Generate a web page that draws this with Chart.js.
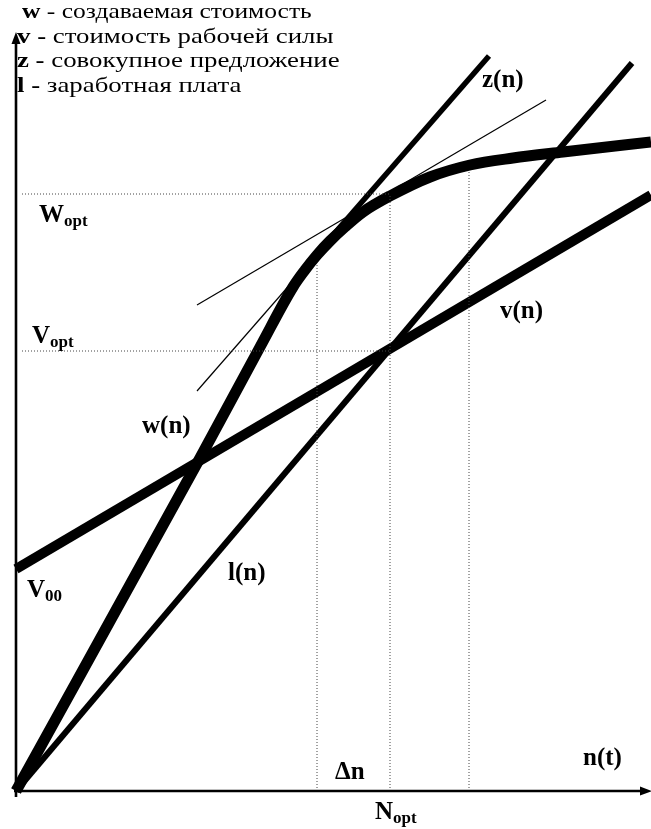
<!DOCTYPE html>
<html>
<head>
<meta charset="utf-8">
<script src="https://cdn.jsdelivr.net/npm/chart.js@4/dist/chart.umd.min.js"></script>
<style>
html,body{margin:0;padding:0;background:#fff;}
#wrap{position:relative;width:651px;height:829px;}
</style>
</head>
<body>
<div id="wrap"><canvas id="c" width="651" height="829"></canvas></div>
<script>
// ---- data (n along x, value along y) ----
const wN   = [0, 184, 244, 277, 289, 301, 314, 329, 347, 374, 414, 454, 497, 547, 635];
const wVal = [0, 333, 444, 504, 521, 536, 550, 564, 579, 595, 614, 626, 633, 639, 649];
const vN   = [0, 635];
const vVal = [222, 596];
const lN   = [0, 616];
const lVal = [0, 728];
const zThinN   = [181, 284];
const zThinVal = [400, 518];
const zN   = [284, 473];
const zVal = [518, 735];
const tanN   = [181, 530];
const tanVal = [486, 691];
const Nopt = 374, Wopt = 597, Vopt = 440, dnLeft = 301, dnRight = 453;
const dnLeftTop = 527, dnRightTop = 620, noptTop = 595;
const xAxisEnd = 636, yAxisEnd = 759;

const legendLines = [
  ["w", " - создаваемая стоимость", false],
  ["v -", " стоимость рабочей силы", true],
  ["z -", " совокупное предложение", true],
  ["l -", " заработная плата", true]
];
const labels = [
  {t:"W", s:"opt", n:23, v:569},
  {t:"V", s:"opt", n:16, v:448},
  {t:"V", s:"00", n:11, v:194},
  {t:"w(n)", s:"", n:126, v:358},
  {t:"l(n)", s:"", n:212, v:211},
  {t:"v(n)", s:"", n:484, v:473},
  {t:"z(n)", s:"", n:466, v:704},
  {t:"n(t)", s:"", n:567, v:26},
  {t:"Δn", s:"", n:319, v:12},
  {t:"N", s:"opt", n:359, v:-28}
];

const pts = (xs, ys) => xs.map((x, i) => ({x: x, y: ys[i]}));
const line = (data, width, extra) => Object.assign({
  data: data, showLine: true, borderColor: '#000', backgroundColor: '#000',
  borderWidth: width, pointRadius: 0, fill: false, borderCapStyle: 'butt'
}, extra || {});
const dot = {borderDash: [1, 2], borderColor: '#444'};

const datasets = [
  // axes
  line(pts([0, 0], [-6, yAxisEnd - 8]), 2.6),
  line(pts([-2, xAxisEnd - 8], [0, 0]), 2.6),
  // dotted guides
  line(pts([6, Nopt], [Wopt, Wopt]), 1, dot),
  line(pts([6, Nopt], [Vopt, Vopt]), 1, dot),
  line(pts([dnLeft, dnLeft], [0, dnLeftTop]), 1, dot),
  line(pts([Nopt, Nopt], [0, noptTop]), 1, dot),
  line(pts([dnRight, dnRight], [0, dnRightTop]), 1, dot),
  // curves
  line(pts(lN, lVal), 6),
  line(pts(vN, vVal), 10),
  line(pts(tanN, tanVal), 1.2),
  line(pts(zThinN, zThinVal), 1.2),
  line(pts(zN, zVal), 5.5),
  line(pts(wN, wVal), 11, {cubicInterpolationMode: 'monotone'})
];

const annot = {
  id: 'annot',
  afterDatasetsDraw(chart) {
    const ctx = chart.ctx, xs = chart.scales.x, ys = chart.scales.y;
    const F = '"Liberation Serif", "Times New Roman", serif';
    ctx.save();
    ctx.fillStyle = '#000';
    // arrowheads
    const ax = xs.getPixelForValue(0), ay = ys.getPixelForValue(0);
    const ty = ys.getPixelForValue(yAxisEnd), tx = xs.getPixelForValue(xAxisEnd);
    ctx.beginPath(); ctx.moveTo(ax, ty); ctx.lineTo(ax - 4.5, ty + 12); ctx.lineTo(ax + 4.5, ty + 12); ctx.closePath(); ctx.fill();
    ctx.beginPath(); ctx.moveTo(tx, ay); ctx.lineTo(tx - 12, ay - 4.5); ctx.lineTo(tx - 12, ay + 4.5); ctx.closePath(); ctx.fill();
    // labels
    ctx.textBaseline = 'alphabetic'; ctx.textAlign = 'left';
    labels.forEach(L => {
      const px = xs.getPixelForValue(L.n), py = ys.getPixelForValue(L.v);
      ctx.font = 'bold 25px ' + F;
      ctx.fillText(L.t, px, py);
      if (L.s) {
        const w = ctx.measureText(L.t).width;
        ctx.font = 'bold 17px ' + F;
        ctx.fillText(L.s, px + w, py + 4);
      }
    });
    // legend block (text slightly widened, as in the reference)
    legendLines.forEach((ln, i) => {
      const x0 = i === 0 ? 22 : 17, y0 = 18 + i * 24.7;
      ctx.save();
      ctx.translate(x0, y0);
      ctx.scale(i === 0 ? 1.16 : 1.22, 1);
      ctx.font = 'bold 22px ' + F;
      ctx.fillText(ln[0], 0, 0);
      const w = ctx.measureText(ln[0]).width;
      ctx.font = '22px ' + F;
      ctx.fillText(ln[1], w, 0);
      ctx.restore();
    });
    ctx.restore();
  }
};

new Chart(document.getElementById('c'), {
  type: 'scatter',
  data: {datasets: datasets},
  options: {
    responsive: false, animation: false, devicePixelRatio: 1,
    layout: {padding: 0},
    plugins: {legend: {display: false}, tooltip: {enabled: false}},
    elements: {line: {tension: 0}},
    scales: {
      x: {type: 'linear', min: -16, max: 635, display: false},
      y: {type: 'linear', min: -38, max: 791, display: false}
    }
  },
  plugins: [annot]
});
</script>
</body>
</html>
